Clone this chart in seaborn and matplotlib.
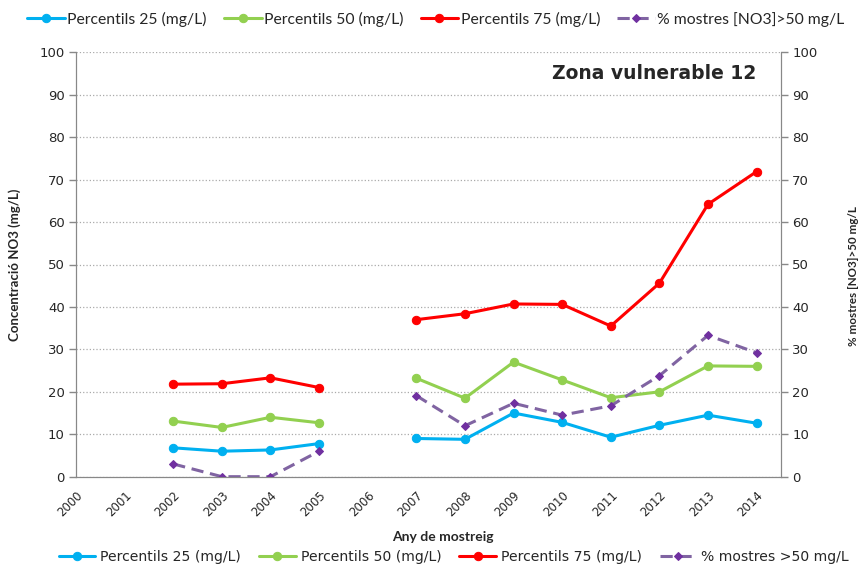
import numpy as np
import pandas as pd
import matplotlib
matplotlib.use('Agg')
import matplotlib.pyplot as plt
import seaborn as sns

years = [2000, 2001, 2002, 2003, 2004, 2005, 2006, 2007, 2008, 2009, 2010, 2011, 2012, 2013, 2014]
p25 = [np.nan, np.nan, 6.8, 6.0, 6.3, 7.8, np.nan, 9.0, 8.8, 15.0, 12.8, 9.3, 12.1, 14.5, 12.6]
p50 = [np.nan, np.nan, 13.1, 11.6, 14.0, 12.7, np.nan, 23.2, 18.5, 27.0, 22.8, 18.6, 20.0, 26.1, 26.0]
p75 = [np.nan, np.nan, 21.8, 21.9, 23.3, 21.0, np.nan, 37.0, 38.4, 40.7, 40.6, 35.5, 45.6, 64.2, 71.9]
pct = [np.nan, np.nan, 3.0, 0.0, 0.0, 6.0, np.nan, 19.1, 12.0, 17.3, 14.5, 16.7, 23.8, 33.3, 29.2]

df = pd.DataFrame({'Any': years, 'p25': p25, 'p50': p50, 'p75': p75, 'pct': pct})
# split into runs so the missing years leave a gap
df['seg'] = df['p25'].isna().cumsum()

sns.set_style('white')
plt.rcParams['font.family'] = ['DejaVu Sans']

fig = plt.figure(figsize=(8.58, 5.75), dpi=100)
ax = fig.add_axes([0.0886, 0.171, 0.8216, 0.738])
ax2 = ax.twinx()

series = [('p25', '#00B0F0', 'Percentils 25 (mg/L)'),
          ('p50', '#92D050', 'Percentils 50 (mg/L)'),
          ('p75', '#FF0000', 'Percentils 75 (mg/L)')]

handles = []
for col, color, lab in series:
    for s, part in df.dropna(subset=[col]).groupby('seg'):
        sns.lineplot(data=part, x='Any', y=col, ax=ax, color=color, lw=2.2,
                     marker='o', markersize=6, markeredgecolor=color, legend=False)
    handles.append(ax.lines[-1])

for s, part in df.dropna(subset=['pct']).groupby('seg'):
    sns.lineplot(data=part, x='Any', y='pct', ax=ax2, color='#8064A2', lw=2.2,
                 linestyle=(0, (4, 2.2)), marker='D', markersize=4.3,
                 markerfacecolor='#7030A0', markeredgecolor='#7030A0', legend=False)
handles.append(ax2.lines[-1])

for a in (ax, ax2):
    a.set_ylim(0, 100)
    a.set_xlim(2000, 2014.5)
    a.set_yticks(range(0, 101, 10))
    a.tick_params(axis='y', length=5, width=1, color='#888888', labelsize=9.5, pad=3)
    for sp in a.spines.values():
        sp.set_color('#888888')
    a.spines['top'].set_visible(False)

ax.set_xticks(years)
ax.set_xticklabels([str(y) for y in years], rotation=45, ha='right', rotation_mode='anchor', fontsize=8.5)
ax.tick_params(axis='x', length=5, width=1, color='#888888', direction='out', pad=4)
ax.tick_params(axis='y', direction='out', left=True)
ax2.tick_params(axis='y', direction='out', right=True)
ax.yaxis.grid(True, color='#aaaaaa', linestyle=':', linewidth=0.9)
ax.set_axisbelow(True)

ax.set_xlabel('Any de mostreig', fontsize=10, fontweight='bold', family='Lato')
ax.xaxis.set_label_coords(0.52, -0.128)
ax.set_ylabel('Concentració NO3 (mg/L)', fontsize=9.5, fontweight='bold', family='Lato')
ax.yaxis.set_label_coords(-0.078, 0.50)
ax2.set_ylabel('% mostres [NO3]>50 mg/L', fontsize=8.4, fontweight='bold', family='Lato')
ax2.yaxis.set_label_coords(1.095, 0.473)

ax.text(0.965, 0.95, 'Zona vulnerable 12', transform=ax.transAxes, ha='right', va='center',
        fontsize=13.5, fontweight='bold')

top_labels = [s[2] for s in series] + ['% mostres [NO3]>50 mg/L']
fig.legend(handles, top_labels, loc='center', bbox_to_anchor=(0.508, 0.967), ncol=4, frameon=False,
           prop={'family': 'Lato', 'size': 11.3}, handlelength=2.4, columnspacing=1.1, handletextpad=0.15)
bottom_labels = [s[2] for s in series] + ['% mostres >50 mg/L']
fig.legend(handles, bottom_labels, loc='center', bbox_to_anchor=(0.529, 0.031), ncol=4, frameon=False,
           prop={'size': 10.1}, handlelength=2.6, columnspacing=1.3, handletextpad=0.35)

fig.savefig('out.png', dpi=100)
